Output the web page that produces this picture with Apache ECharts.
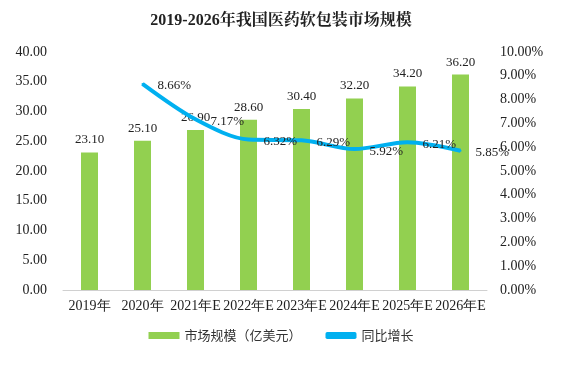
<!DOCTYPE html>
<html><head><meta charset="utf-8">
<script src="https://cdn.jsdelivr.net/npm/echarts@6/dist/echarts.min.js"></script>
<style>html,body{margin:0;padding:0;background:#fff}#c{width:562px;height:365px}</style>
</head><body><div id="c"></div>
<script>
var categories = ['2019年','2020年','2021年E','2022年E','2023年E','2024年E','2025年E','2026年E'];
var marketSize = [23.10, 25.10, 26.90, 28.60, 30.40, 32.20, 34.20, 36.20];
var growth = [null, 8.66, 7.17, 6.32, 6.29, 5.92, 6.21, 5.85];
var seriesNames = ['市场规模（亿美元）', '同比增长'];
var titleText = '2019-2026年我国医药软包装市场规模';

var serif = '"Liberation Serif","Times New Roman",serif';
var chart = echarts.init(document.getElementById('c'));
chart.setOption({
  animation: false,
  title: { text: titleText, left: 'center', top: 8,
    textStyle: { fontFamily: '"Liberation Serif","Noto Serif CJK SC","Noto Sans CJK SC",serif', fontWeight: 'bold', fontSize: 16, color: '#222' } },
  legend: { bottom: 18, itemGap: 24, itemWidth: 31, itemHeight: 7,
    textStyle: { fontFamily: '"Noto Sans CJK SC",sans-serif', fontSize: 13, color: '#333' },
    data: [{ name: seriesNames[0], icon: 'rect' },
           { name: seriesNames[1], icon: 'roundRect', itemStyle: { color: '#00B0F0', opacity: 1 } }] },
  grid: { left: 63, right: 75, top: 52, bottom: 75 },
  xAxis: { type: 'category', data: categories,
    axisLine: { lineStyle: { color: '#d0d0d0' } }, axisTick: { show: false },
    axisLabel: { interval: 0, fontFamily: serif, fontSize: 14, color: '#222', margin: 9 } },
  yAxis: [
    { type: 'value', min: 0, max: 40, interval: 5, splitLine: { show: false },
      axisLabel: { formatter: function (v) { return v.toFixed(2); }, fontFamily: serif, fontSize: 14, color: '#222', margin: 16 } },
    { type: 'value', min: 0, max: 10, interval: 1, splitLine: { show: false },
      axisLabel: { formatter: function (v) { return v.toFixed(2) + '%'; }, fontFamily: serif, fontSize: 14, color: '#222', margin: 13 } }
  ],
  series: [
    { name: seriesNames[0], type: 'bar', data: marketSize, barWidth: 17,
      itemStyle: { color: '#92D050' },
      label: { show: true, position: 'top', distance: 6, formatter: function (p) { return p.value.toFixed(2); },
        fontFamily: serif, fontSize: 13, color: '#222' } },
    { name: seriesNames[1], type: 'line', yAxisIndex: 1, data: growth, smooth: 0.3,
      symbol: 'circle', symbolSize: 2, showSymbol: true,
      lineStyle: { color: '#00B0F0', width: 4 }, itemStyle: { color: '#00B0F0' },
      label: { show: true, position: 'right', distance: 14, offset: [0, 2], formatter: function (p) { return p.value.toFixed(2) + '%'; },
        fontFamily: serif, fontSize: 13, color: '#222' } }
  ]
});
</script></body></html>
